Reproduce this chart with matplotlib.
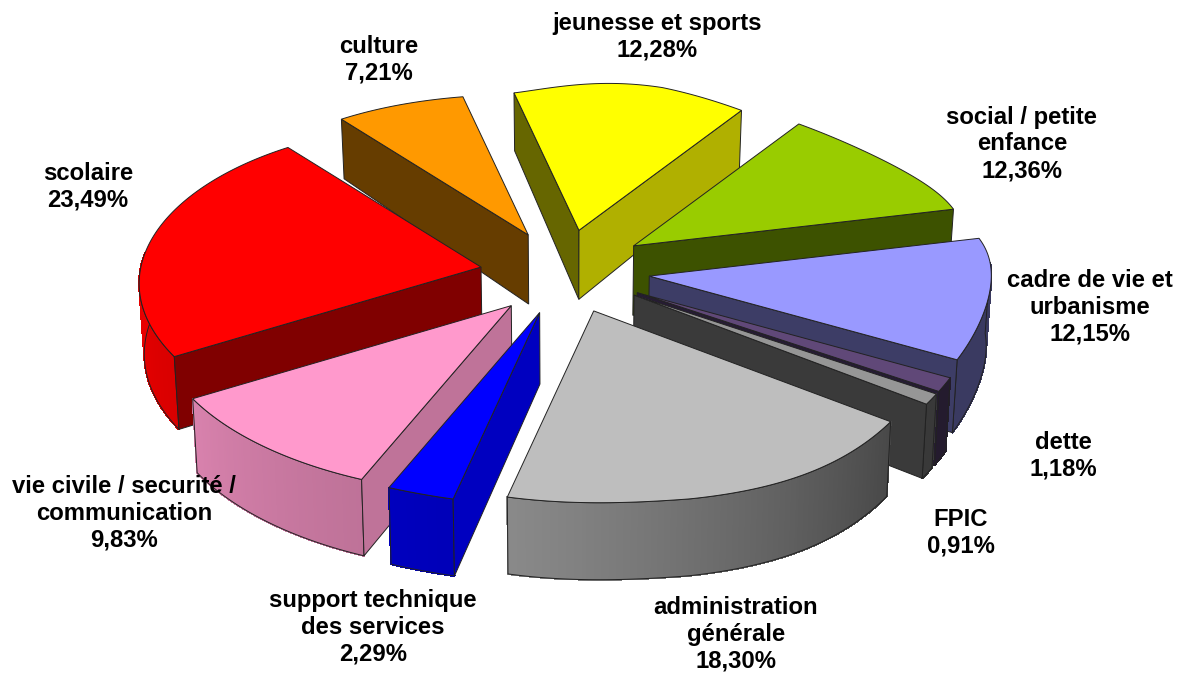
#!/usr/bin/env python
"""
Exploded 3D style pie of the budget split, drawn by hand from polygons.
"""

import numpy as np
import matplotlib
matplotlib.use("Agg")
import matplotlib.pyplot as plt
from matplotlib.collections import PolyCollection
from matplotlib.colors import to_rgb
from matplotlib.patches import Polygon


# ---------------------- DATA ------------------------------

labels = [
    "jeunesse et sports",
    "social / petite\nenfance",
    "cadre de vie et\nurbanisme",
    "dette",
    "FPIC",
    "administration\ngénérale",
    "support technique\ndes services",
    "vie civile / securité /\ncommunication",
    "scolaire",
    "culture",
]
values = [12.28, 12.36, 12.15, 1.18, 0.91, 18.30, 2.29, 9.83, 23.49, 7.21]

# ---------------------- STYLE -----------------------------

top_colors = ["#FFFF00", "#99CC00", "#9999FF", "#604878", "#969696",
              "#BEBEBE", "#0000FF", "#FF99CC", "#FF0000", "#FF9900"]
start_wall = ["#666600", "#3D5200", "#3D3D66", "#261C33", "#3A3A3A",
              "#4C4C4C", "#0000C0", "#BF7399", "#800000", "#663D00"]
end_wall = ["#B0B000", "#3D5200", "#3D3D66", "#261C33", "#3A3A3A",
            "#4C4C4C", "#0000C0", "#BF7399", "#800000", "#663D00"]
draw_order = [9, 0, 1, 8, 2, 3, 4, 7, 6, 5]

label_pos = [(657, 37), (1022, 144), (1090, 307), (1063, 456), (961, 533),
             (736, 634), (373, 627), (124, 513), (88, 187), (379, 60)]

START_ANGLE = 345.0
CX, CY = 565, 272
EXPLODE_X, EXPLODE_Y = 85, 42
SKEW = 3.5
PERSPECTIVE = 0.001

# rim radii against depth in the plane (cos of the angle), one set per side
V_LEFT = [-1, -0.945, -0.58, 0, 0.755, 0.966]
RX_LEFT = [455, 445, 378, 342, 296, 262]
RY_LEFT = [182, 180, 155, 155, 160, 148]
V_RIGHT = [-1, -0.57, -0.46, 0, 0.28, 0.873, 1]
RX_RIGHT = [372, 344, 350, 343, 338, 352, 345]
RY_RIGHT = [185, 183, 186, 150, 130, 152, 152]

RX_L = np.polyfit(V_LEFT, RX_LEFT, 3)
RY_L = np.polyfit(V_LEFT, RY_LEFT, 3)
RX_R = np.polyfit(V_RIGHT, RX_RIGHT, 3)
RY_R = np.polyfit(V_RIGHT, RY_RIGHT, 3)


def radial(theta):
    # offset from a slice apex to its rim, both sides blended around the axis
    u, v = np.sin(np.radians(theta)), np.cos(np.radians(theta))
    w = np.clip(0.5 + 2.0 * u, 0, 1)
    rx = w * np.polyval(RX_R, v) + (1 - w) * np.polyval(RX_L, v)
    ry = w * np.polyval(RY_R, v) + (1 - w) * np.polyval(RY_L, v)
    return rx * u, -ry * v


def depth(y):
    return np.interp(y, [100, 230, 500], [58, 69, 77])


def drop(x, y):
    return CX + (x - CX) * 0.988, y + depth(y)


def shade(theta):
    return np.interp(theta, [90, 125, 190, 235, 275], [0.38, 0.38, 0.72, 0.85, 0.92])


def quad(ax, p, q, color):
    x0, y0 = drop(*p)
    x1, y1 = drop(*q)
    ax.add_patch(Polygon([p, q, (x1, y1), (x0, y0)], closed=True, facecolor=color,
                         edgecolor="#222222", lw=0.7))


def main():
    fig = plt.figure(figsize=(11.85, 6.75), dpi=100)
    ax = fig.add_axes([0, 0, 1, 1])
    ax.set_xlim(0, 1185)
    ax.set_ylim(675, 0)
    ax.axis("off")

    edges = START_ANGLE + np.cumsum([0] + values) * 3.6

    for i in draw_order:
        t0, t1 = edges[i], edges[i + 1]
        mid = np.radians((t0 + t1) / 2)
        ax0 = CX + EXPLODE_X * np.sin(mid) + SKEW * np.cos(mid)
        ay0 = CY - EXPLODE_Y * np.cos(mid)
        scale = 1 + (ay0 - CY) * PERSPECTIVE

        thetas = np.linspace(t0, t1, max(int(t1 - t0) * 2, 4))
        dx, dy = radial(thetas % 360)
        xs, ys = ax0 + dx * scale, ay0 + dy * scale
        apex = (ax0, ay0)

        # outer wall as thin strips, only the part that faces the viewer
        bx, by = drop(xs, ys)
        keep = np.where((thetas % 360 > 85) & (thetas % 360 < 275))[0]
        if len(keep) > 1:
            strips = []
            colors = []
            rgb = np.array(to_rgb(top_colors[i]))
            for j in keep[:-1]:
                strips.append([(xs[j], ys[j]), (xs[j + 1], ys[j + 1]),
                               (bx[j + 1], by[j + 1]), (bx[j], by[j])])
                colors.append(rgb * shade(thetas[j] % 360))
            ax.add_collection(PolyCollection(strips, facecolors=colors, edgecolors=colors,
                                             lw=0.8, antialiaseds=False))
            outline = np.r_[np.c_[xs[keep], ys[keep]], np.c_[bx[keep], by[keep]][::-1]]
            ax.add_patch(Polygon(outline, closed=True, fill=False, edgecolor="#222222", lw=0.7))

        # radial walls that face the viewer
        if np.sin(np.radians(t0)) < 0:
            quad(ax, apex, (xs[0], ys[0]), start_wall[i])
        if np.sin(np.radians(t1)) > 0:
            quad(ax, apex, (xs[-1], ys[-1]), end_wall[i])

        # top face
        top = np.r_[[apex], np.c_[xs, ys]]
        ax.add_patch(Polygon(top, closed=True, facecolor=top_colors[i],
                             edgecolor="#222222", lw=0.7))

    for label, value, (x, y) in zip(labels, values, label_pos):
        text = f"{label}\n{value:.2f}%".replace(".", ",")
        ax.text(x, y, text, ha="center", va="center", fontsize=17.2, fontweight="bold",
                family="Liberation Sans", linespacing=1.21, color="black")

    fig.savefig("out.png", dpi=100)
    plt.close(fig)


if __name__ == "__main__":
    main()
